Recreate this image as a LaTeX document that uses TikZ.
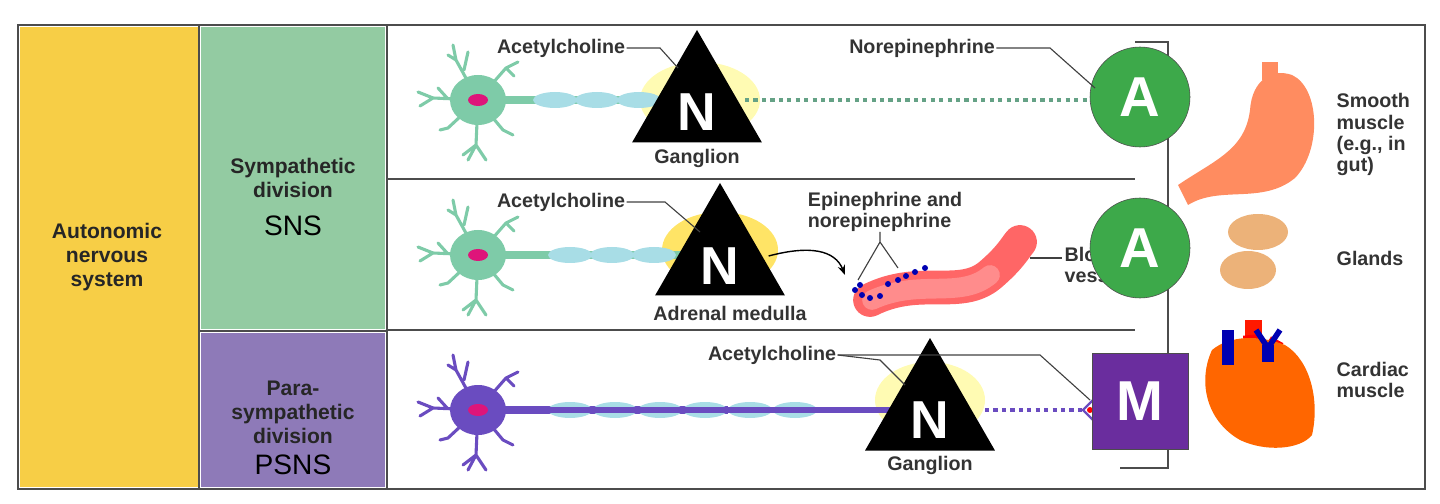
\documentclass[tikz,border=0pt]{standalone}
\usepackage{fontspec}
\setmainfont{Liberation Sans}
\usetikzlibrary{arrows.meta,shapes.geometric}
\definecolor{yel}{HTML}{F7CE46}
\definecolor{grn}{HTML}{93CBA2}
\definecolor{pur}{HTML}{8E7AB8}
\definecolor{neug}{HTML}{7ECBA8}
\definecolor{neup}{HTML}{6A4CC0}
\definecolor{circg}{HTML}{3DA94A}
\definecolor{sqp}{HTML}{6A2D9E}
\definecolor{myel}{HTML}{A8DDE6}
\definecolor{txt}{HTML}{333333}
\tikzset{
  lbl/.style={font=\bfseries\fontsize{14}{15}\selectfont, text=txt, inner sep=1pt},
  side/.style={font=\bfseries\fontsize{15}{17}\selectfont, align=center, text=black!85},
  abbr/.style={font=\fontsize{20}{22}\selectfont, text=black},
  tri/.style={regular polygon, regular polygon sides=3, fill=black, minimum size=150*0.025cm, inner sep=0pt},
  letter/.style={text=white, font=\bfseries\fontsize{38}{38}\selectfont},
  circA/.style={circle, fill=circg, draw=black!70, minimum size=100*0.025cm, inner sep=0pt, text=white, font=\bfseries\fontsize{40}{40}\selectfont},
  sqM/.style={rectangle, fill=sqp, draw=black!70, minimum size=96*0.025cm, inner sep=0pt, text=white, font=\bfseries\fontsize{40}{40}\selectfont},
  lead/.style={draw=black!75, line width=0.8pt},
  sep/.style={draw=black!70, line width=1.2pt},
}
\newcommand{\neuron}[3]{% x y color
  \begin{scope}[shift={(#1,#2)}]
    \draw[#3, line width=2.2pt, line cap=round] (0,0) -- (-45,-2) (-45,-2) -- (-60,-8) (-45,-2) -- (-58,6) (-30,-1) -- (-40,-12)
      (0,0) -- (-22,-40) -- (-25,-55) (-22,-40) -- (-30,-45) (-14,-30) -- (-10,-48)
      (0,0) -- (28,-32) -- (40,-38) (28,-32) -- (36,-24)
      (0,0) -- (25,30) -- (35,35)
      (0,0) -- (-2,45) -- (-10,60) (-2,45) -- (8,60) (-2,45)--(-15,55)
      (0,0) -- (-30,28) -- (-38,30);
    \fill[#3] (0,0) ellipse (28 and 25);
    \fill[#3] (0,-4) rectangle (250,4);
    \fill[magenta!70!purple] (0,0) ellipse (10 and 6);
  \end{scope}
}
\begin{document}
\begin{tikzpicture}[x=0.025cm,y=-0.025cm]
\useasboundingbox (0,0) rectangle (1440,504);
% columns
\fill[yel] (20,27) rectangle (198,487);
\fill[grn] (201,27) rectangle (385,329);
\fill[pur] (201,333) rectangle (385,487);
\draw[black!70, line width=1.5pt] (18,25) rectangle (1425,489);
\draw[black!70, line width=1pt] (199,25) -- (199,489) (387,25) -- (387,489) (199,331) -- (387,331);
\node[side] (ans) at (107,257) {Autonomic\\nervous\\system};
\node[side] (sd) at (293,178) {Sympathetic\\division};
\node[abbr] (sns) at (293,226) {SNS};
\node[side] (psd) at (293,412) {Para-\\sympathetic\\division};
\node[abbr] (psns) at (293,465) {PSNS};
% separators and bracket
\draw[sep] (388,179) -- (1135,179);
\draw[sep] (388,330) -- (1135,330);
\draw[sep] (1135,42) -- (1168,42) -- (1168,468) -- (1120,468);
% ---- Row 1
\fill[yellow!30] (700,100) ellipse (60 and 38);
\neuron{478}{100}{neug}
\foreach \i in {0,1,2,3} \fill[myel] (555+\i*42,100) ellipse (22 and 8);
\draw[neug!80!black, line width=2.5pt, dashed] (745,100) -- (1092,100);
\draw[neug!80!black, line width=1.6pt] (1105,88) -- (1092,100) -- (1105,112);
\node[tri] (n1) at (697,105) {};
\node[letter] at (697,112) {N};
\node[lbl] (g1) at (697,158) {Ganglion};
\node[lbl] (ac1) at (561,48) {Acetylcholine};
\draw[lead] (ac1.east) -- (660,48) -- (678,68);
\node[circA] (a1) at (1140,97) {A};
\node[lbl] (ne) at (922,48) {Norepinephrine};
\draw[lead] (ne.east) -- (1050,48) -- (1095,88);
% ---- Row 2
\fill[orange!35!yellow!60] (720,250) ellipse (58 and 38);
\neuron{478}{255}{neug}
\foreach \i in {0,1,2} \fill[myel] (570+\i*42,255) ellipse (22 and 8);
\node[tri] (n2) at (720,258) {};
\node[letter] at (720,266) {N};
\node[lbl] (am) at (730,313) {Adrenal medulla};
\node[lbl] (ac2) at (561,202) {Acetylcholine};
\draw[lead] (ac2.east) -- (665,202) -- (700,232);
\draw[-{Stealth[length=7pt]}, line width=1pt] (n2.east) ++(5,-2) .. controls (810,245) and (835,250) .. (845,275);
% vessel
\draw[red!60, line width=24pt, line cap=round] (870,300) .. controls (920,275) and (960,300) .. (990,275) .. controls (1010,258) and (1015,248) .. (1020,242);
\draw[red!45, line width=14pt, line cap=round] (872,300) .. controls (920,278) and (960,300) .. (990,275);
\foreach \p in {(855,290),(862,295),(870,298),(880,296),(888,284),(898,280),(906,276),(915,272),(925,268),(860,285)}
  \fill[blue!70!black] \p circle (3);
\node[lbl, align=left] (epi) at (885,212) {Epinephrine and\\norepinephrine};
\draw[lead] (880,232) -- (880,242) (880,242) -- (858,280) (880,242) -- (898,268);
\draw[lead] (1030,258) -- (1062,258);
\node[lbl, align=left, anchor=west] (bv) at (1063,265) {Blood\\vessel};
\node[circA] (a2) at (1140,248) {A};
% ---- Row 3
\fill[yellow!30] (930,400) ellipse (55 and 38);
\neuron{478}{410}{neup}
\foreach \i in {0,...,5} \fill[myel] (570+\i*45,410) ellipse (22 and 8);
\fill[neup] (520,407) rectangle (890,413);
\draw[neup, line width=2.5pt, dashed] (985,410) -- (1085,410);
\draw[neup, line width=1.6pt] (1095,398) -- (1083,410) -- (1095,422);
\fill[red] (1090,410) circle (3);
\node[tri] (n3) at (930,413) {};
\node[letter] at (930,420) {N};
\node[lbl] (g3) at (930,465) {Ganglion};
\node[lbl] (ac3) at (772,355) {Acetylcholine};
\draw[lead] (ac3.east) -- (1040,355) -- (1090,400);
\draw[lead] (ac3.east) -- (880,360) -- (905,385);
\node[sqM] (m) at (1140,401) {M};
% ---- organs
\fill[red!30!orange!50!pink] (1178,185) .. controls (1215,160) and (1245,150) .. (1250,110) .. controls (1252,80) and (1272,68) .. (1292,75) .. controls (1320,88) and (1322,150) .. (1295,178) .. controls (1262,205) and (1220,185) .. (1188,205) -- cycle;
\fill[red!30!orange!50!pink] (1262,80) rectangle (1278,62);
\fill[orange!50!brown!60] (1258,232) ellipse (30 and 18);
\fill[orange!50!brown!60] (1248,270) ellipse (28 and 19);
\fill[red!80!orange] (1245,350) rectangle (1262,320);
\draw[red, line width=10pt] (1250,335) arc (180:20:14);
\fill[orange!80!red] (1212,350) .. controls (1198,380) and (1205,420) .. (1240,440) .. controls (1265,452) and (1300,450) .. (1312,435) .. controls (1320,400) and (1310,360) .. (1285,345) .. controls (1260,335) and (1230,335) .. cycle;
\fill[blue!70!black] (1222,330) rectangle (1234,365);
\fill[blue!70!black] (1262,345) rectangle (1274,362);
\draw[blue!70!black, line width=4pt] (1268,348) -- (1280,330) (1268,348) -- (1256,330);
\node[lbl, align=left, anchor=north west] (sm) at (1335,92) {Smooth\\muscle\\(e.g., in\\gut)};
\node[lbl, anchor=west] (gl) at (1335,258) {Glands};
\node[lbl, align=left, anchor=west] (cm) at (1335,380) {Cardiac\\muscle};
\end{tikzpicture}
\end{document}
